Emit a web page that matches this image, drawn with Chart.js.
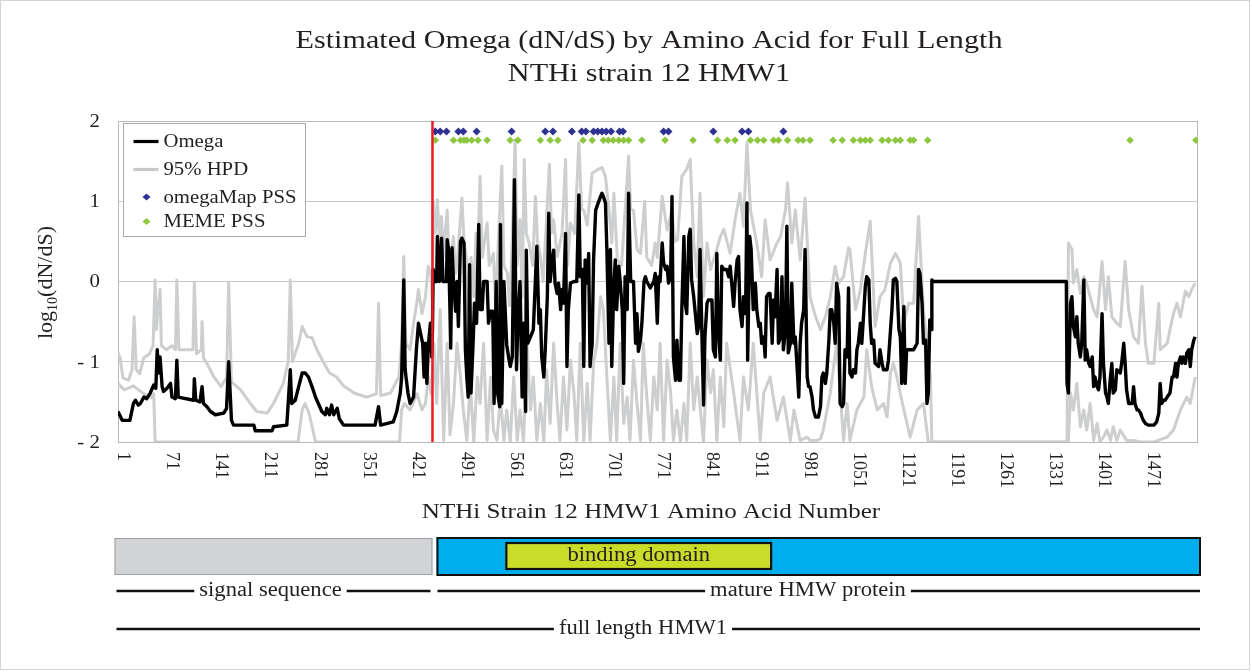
<!DOCTYPE html>
<html>
<head>
<meta charset="utf-8">
<script src="https://cdn.jsdelivr.net/npm/chart.js@4.4.1/dist/chart.umd.min.js"></script>
<style>
  html, body { margin: 0; padding: 0; background: #ffffff; }
  #wrap { width: 1252px; height: 672px; position: relative; }
  canvas { display: block; }
</style>
</head>
<body>
<div id="wrap"><canvas id="omegaChart" width="1252" height="672"></canvas></div>
<script>
// ---- Per-site log10(dN/dS) estimates: [amino-acid position, value] ----
const omegaSignal = [[-7,-1.62],[-1,-1.73],[10,-1.73],[15,-1.52],[18,-1.48],[22,-1.54],[25,-1.52],[30,-1.44],[34,-1.46],[39,-1.39],[44,-1.29],[47,-1.33],[49,-0.85],[51,-1.14],[53,-0.94],[56,-1.31],[58,-1.37],[63,-1.33],[68,-1.27],[70,-1.44],[75,-1.46],[77,-0.98],[79,-1.44],[101,-1.48],[102,-1.21],[104,-1.48],[110,-1.50],[113,-1.31],[115,-1.52],[120,-1.56],[125,-1.62],[132,-1.66],[144,-1.64],[148,-1.58],[151,-1.0],[155,-1.73],[158,-1.79],[187,-1.79],[189,-1.86],[213,-1.86],[215,-1.81],[234,-1.79],[236,-1.52],[239,-1.10],[241,-1.52],[246,-1.48],[251,-1.31],[256,-1.14],[260,-1.14],[265,-1.19],[270,-1.31],[275,-1.44],[279,-1.52],[284,-1.62],[289,-1.66],[291,-1.58],[295,-1.66],[298,-1.54],[301,-1.66],[306,-1.58],[309,-1.71],[315,-1.79],[360,-1.79],[365,-1.56],[368,-1.79],[386,-1.75],[391,-1.62],[396,-1.39],[398,-1.19],[401,0.02],[403,-1.10],[407,-1.39],[410,-1.52],[415,-1.44],[419,-0.85],[422,-0.52],[426,-0.69],[428,-0.77],[430,-1.19],[432,-0.77],[434,-1.27],[436,-0.81],[439,-0.52],[441,-0.94]];
const omegaMature = [[442,-0.6],[443,0.15],[446,0],[448,0],[449,0.56],[452,0],[455,0.54],[457,0],[462,0],[463,0.52],[465,0.4],[467,-0.37],[468,-0.83],[470,0.42],[472,0],[475,-0.37],[477,0],[479,-0.56],[482,0.5],[484,0.54],[487,0.48],[489,-0.85],[491,-1.19],[493,-1.44],[495,0.21],[497,-1.39],[500,-0.77],[502,-0.27],[505,-0.52],[508,0.71],[510,-0.35],[513,-0.35],[515,0],[520,0],[522,-0.52],[525,-0.37],[528,-0.37],[530,-1.52],[533,0],[535,-1.39],[538,-1.56],[539,0.71],[541,-1.52],[544,0],[548,-0.79],[551,-0.96],[553,-1.06],[556,-0.94],[559,1.27],[562,-1.1],[564,-0.52],[567,0],[570,-1.44],[572,-0.52],[575,-1.62],[576,0.39],[578,-0.77],[582,-0.69],[586,-0.6],[591,0.44],[594,-0.52],[596,-0.35],[598,-0.94],[601,-1.19],[603,-0.85],[606,-0.19],[608,0.85],[610,0],[613,0.27],[615,0.39],[617,-0.02],[620,-0.15],[622,-0.02],[625,-0.35],[627,-0.1],[629,-0.27],[632,0.6],[634,-1.06],[636,-0.35],[639,-0.02],[644,0],[648,0],[651,1.08],[653,0.06],[656,0.15],[658,-1.06],[660,0.27],[663,-0.02],[665,0.35],[667,-1.06],[670,-0.77],[672,0.27],[675,0.89],[677,0.94],[682,1.06],[684,1.1],[686,1.06],[689,0.98],[691,0.4],[694,-0.77],[696,0.4],[698,-1.06],[701,-0.02],[703,0.27],[705,-0.35],[708,0.19],[710,0],[713,-0.35],[715,-1.27],[717,0.06],[720,-0.35],[722,1.1],[725,0],[729,0],[732,-0.77],[734,-0.4],[736,-0.87],[739,-0.73],[741,-0.52],[744,0],[746,0.06],[748,0],[753,-0.08],[758,0],[760,0.1],[763,-0.52],[765,0.06],[767,0],[770,0.48],[772,0.23],[775,0.15],[777,0.19],[779,-0.02],[782,0.06],[784,1.06],[786,-0.94],[789,-1.23],[791,-0.73],[794,-1.23],[796,-1.23],[798,-0.35],[801,0.56],[803,-0.27],[805,-0.4],[808,0.56],[810,0.65]];
const omegaCentral = [[812,0.02],[815,-0.19],[820,-0.65],[822,-0.56],[824,0.40],[827,-0.77],[829,-1.54],[831,-0.69],[834,-0.27],[836,-0.23],[841,-0.23],[843,-0.85],[846,-0.94],[848,0.35],[850,-0.56],[853,-0.98],[855,0.19],[858,0.15],[862,0.15],[865,0.06],[867,0.19],[870,-0.10],[872,-0.31],[874,-0.02],[877,0.27],[879,0.31],[881,-0.35],[884,-0.56],[886,-0.19],[889,-0.40],[891,0.98],[892,-0.98],[895,0.56],[897,0.40],[900,-0.35],[903,-0.02],[905,-0.35],[908,-0.56],[910,-0.52],[912,-0.77],[915,-0.69],[917,-0.94],[919,-0.19],[922,-0.15],[924,-0.15],[927,-0.77],[929,-0.23],[931,-0.44],[934,0.15],[936,-0.77],[939,-0.69],[941,0.06],[943,-0.85],[946,-0.60],[948,0.69],[950,-0.89],[953,-0.77],[955,-0.02],[958,-0.77],[960,-0.69],[962,-0.98],[965,-1.44],[967,-0.77],[969,-0.52],[972,-0.35],[974,0.40],[977,-1.19],[979,-1.31],[981,-1.31],[984,-1.44],[986,-1.60],[989,-1.69],[993,-1.69],[996,-1.56],[998,-1.19],[1000,-1.14],[1003,-1.27],[1005,-1.14],[1008,-0.73],[1010,-0.35],[1012,-0.35],[1015,-0.52],[1017,-0.77],[1019,-0.02],[1022,-0.19],[1024,-1.52],[1027,-1.56],[1029,-1.52],[1031,-0.85],[1034,-0.94],[1036,-0.08],[1038,-1.14],[1041,-1.19],[1043,-1.10],[1046,-1.14],[1048,-0.85],[1050,-0.77],[1053,-0.52],[1055,-0.77],[1058,-0.35],[1060,-0.06],[1062,0.06],[1065,0.02],[1067,-0.52],[1069,-0.77],[1072,-0.73],[1074,-1.02],[1079,-1.06],[1081,-0.85],[1084,-1.02],[1086,-1.10],[1091,-1.10],[1093,-0.98],[1096,-0.60],[1098,-0.35],[1100,0.02],[1103,0.04],[1105,0.0],[1108,-0.60],[1110,-0.69],[1112,-1.27],[1115,-0.31],[1117,-1.27],[1119,-0.85],[1124,-0.85],[1129,-0.85],[1134,-0.77],[1136,0.15],[1138,0.10],[1141,-0.27],[1143,-0.77],[1146,-0.73],[1148,-1.52],[1150,-1.39],[1152,-0.48],[1154,-0.60],[1155,0.02],[1157,0],[1347,0]];
const omegaCTerm = [[1348,-1.27],[1350,-1.39],[1353,-0.27],[1355,-0.19],[1357,-0.56],[1360,-0.69],[1362,-0.44],[1364,-0.77],[1367,-0.94],[1369,-0.77],[1372,0.02],[1374,-0.98],[1376,-0.85],[1379,-1.02],[1381,-1.06],[1384,-0.94],[1386,-1.31],[1388,-1.19],[1391,-1.31],[1393,-1.35],[1395,-1.19],[1398,-0.40],[1400,-1.02],[1403,-1.39],[1405,-1.44],[1407,-1.52],[1410,-1.19],[1412,-1.02],[1414,-1.39],[1417,-1.35],[1419,-1.10],[1424,-1.14],[1426,-1.02],[1429,-0.77],[1431,-1.02],[1433,-1.35],[1436,-1.52],[1441,-1.52],[1443,-1.31],[1445,-1.52],[1448,-1.60],[1450,-1.60],[1453,-1.64],[1455,-1.69],[1457,-1.73],[1460,-1.77],[1464,-1.79],[1472,-1.79],[1476,-1.75],[1479,-1.64],[1481,-1.27],[1483,-1.52],[1486,-1.48],[1488,-1.48],[1491,-1.44],[1495,-1.39],[1498,-1.19],[1500,-1.19],[1503,-1.02],[1505,-1.19],[1507,-1.02],[1510,-0.94],[1512,-1.02],[1514,-0.94],[1517,-1.02],[1519,-0.89],[1522,-0.85],[1524,-1.06],[1526,-0.85],[1529,-0.73],[1531,-0.69]];

// ---- 95% HPD interval bounds ----
const hpdUpperSignal = [[-7,-0.89],[-4,-0.95],[0,-1.2],[8,-1.23],[13,-1.1],[16,-0.44],[19,-1.1],[24,-1.15],[30,-0.95],[38,-0.9],[43,-0.8],[46,0.02],[48,-0.6],[50,-0.35],[53,-0.1],[55,-0.8],[62,-0.85],[70,-0.8],[75,-0.85],[77,0.02],[80,-0.85],[100,-0.85],[102,-0.02],[105,-0.9],[112,-0.85],[113,-0.5],[115,-0.95],[120,-1.02],[130,-1.19],[140,-1.31],[148,-1.2],[151,-0.02],[155,-1.25],[168,-1.35],[182,-1.52],[191,-1.62],[206,-1.64],[215,-1.52],[229,-1.27],[236,-1.0],[239,0.02],[242,-1.0],[251,-0.77],[256,-0.56],[263,-0.69],[270,-0.7],[277,-0.85],[286,-1.0],[295,-1.14],[305,-1.19],[315,-1.3],[330,-1.39],[348,-1.44],[362,-1.4],[365,-0.27],[368,-1.42],[382,-1.39],[394,-1.19],[398,-0.77],[401,0.31],[404,-0.77],[410,-0.85],[415,-0.52],[419,-0.3],[422,-0.1],[427,-0.4],[432,-0.19],[436,0.19],[440,0.06]];
const hpdUpperMature = [[442,-0.3],[443,1.0],[446,0.6],[449,1.02],[452,0.5],[455,0.81],[457,0.3],[463,0.89],[466,0.2],[470,0.4],[472,0.56],[475,0.1],[478,0.3],[484,1.04],[487,0.5],[491,0.27],[494,-0.4],[497,0.3],[501,-0.19],[504,0.6],[506,0.2],[510,1.31],[513,0.3],[520,0.73],[523,0.2],[529,0.35],[532,-0.3],[535,0.3],[541,1.44],[544,0.2],[549,0.1],[552,-0.3],[555,0.3],[560,1.77],[563,0.2],[567,0.77],[570,-0.2],[573,1.52],[576,0.6],[580,0.48],[585,0.2],[589,1.06],[592,0.5],[596,0.31],[600,0.0],[609,1.46],[612,0.6],[615,0.77],[620,0.31],[627,0.6],[632,1.52],[635,0.2],[639,0.73],[645,0.6],[651,1.73],[655,0.9],[658,0.89],[663,0.7],[670,1.35],[677,1.39],[684,1.42],[689,1.31],[694,0.89],[698,0.48],[701,1.1],[706,0.27],[712,0.2],[722,1.56],[725,0.9],[729,0.89],[734,0.4],[739,0.35],[745,1.0],[748,0.3],[755,0.2],[760,0.48],[763,0.3],[770,1.06],[777,0.64],[784,0.89],[788,0.5],[792,0.52],[798,1.31],[805,1.4],[810,1.52]];
const hpdUpperCentral = [[815,0.48],[820,0.06],[824,1.10],[829,-0.19],[834,0.48],[839,0.15],[848,0.40],[853,0.56],[858,0.65],[867,0.35],[874,0.77],[881,1.10],[886,0.69],[891,1.73],[896,0.89],[905,0.48],[912,0.06],[917,0.77],[924,0.27],[934,0.48],[939,0.56],[946,0.89],[949,1.23],[955,0.48],[960,0.89],[967,0.27],[974,1.04],[981,-0.19],[989,-0.44],[996,-0.60],[1003,-0.44],[1010,-0.19],[1017,0.19],[1022,-0.02],[1029,0.06],[1036,0.42],[1038,0.40],[1046,-0.35],[1053,-0.10],[1060,0.35],[1067,0.75],[1074,-0.56],[1081,-0.19],[1088,-0.10],[1096,0.23],[1103,0.35],[1110,0.23],[1115,-0.52],[1122,-0.27],[1129,-0.27],[1136,0.81],[1143,-0.35],[1148,-0.77],[1153,-1.19],[1155,-2],[1348,-2]];
const hpdUpperCTerm = [[1350,0.48],[1355,0.40],[1357,-0.02],[1362,0.15],[1367,-0.15],[1372,0.06],[1376,-0.02],[1381,-0.19],[1386,-0.35],[1391,-0.44],[1398,0.25],[1403,-0.35],[1407,0.06],[1412,-0.44],[1419,-0.52],[1424,-0.56],[1431,0.25],[1436,-0.35],[1443,-0.69],[1450,-0.77],[1455,-0.06],[1460,-0.77],[1464,-1.02],[1472,-1.02],[1479,-0.27],[1481,-0.85],[1491,-0.77],[1495,-0.60],[1500,-0.40],[1505,-0.27],[1510,-0.44],[1517,-0.12],[1522,-0.19],[1526,-0.10],[1531,-0.02]];
const hpdLowerSignal = [[-7,-1.27],[2,-1.35],[15,-1.3],[30,-1.4],[40,-1.45],[44,-1.4],[46,-2],[250,-2],[256,-1.6],[260,-1.52],[266,-1.65],[275,-2],[395,-2],[398,-1.6],[402,-1.52],[410,-1.6],[420,-1.4],[427,-1.6],[432,-1.52],[436,-1.19],[440,-1.4]];
const hpdLowerMature = [[444,-0.77],[448,-1.52],[453,-0.35],[458,-1.98],[463,-0.77],[467,-1.91],[472,-1.52],[477,-0.77],[482,-1.19],[486,-1.6],[491,-1.98],[496,-1.27],[501,-2.0],[506,-1.19],[510,-1.52],[515,-0.77],[520,-1.98],[525,-1.19],[529,-1.85],[534,-1.98],[539,-1.44],[544,-1.98],[548,-1.6],[553,-2.0],[558,-1.19],[563,-1.98],[567,-1.6],[572,-2.0],[577,-0.77],[582,-1.6],[586,-1.19],[591,-1.98],[596,-1.52],[601,-2.0],[605,-1.1],[610,-1.77],[615,-0.77],[620,-1.52],[624,-1.98],[629,-1.19],[634,-1.85],[639,-0.98],[644,-1.39],[648,-1.98],[653,-0.77],[658,-2.0],[663,-1.27],[667,-1.98],[672,-1.02],[677,-0.77],[682,-0.19],[686,-0.35],[691,-1.19],[696,-1.98],[701,-1.19],[705,-1.98],[710,-0.77],[715,-1.77],[720,-1.44],[724,-1.98],[729,-0.98],[734,-1.52],[739,-1.98],[743,-0.77],[748,-1.44],[753,-1.98],[758,-1.19],[763,-1.6],[767,-0.77],[772,-1.98],[777,-0.98],[782,-1.39],[786,-1.98],[791,-1.6],[796,-2.0],[801,-1.52],[805,-1.98],[810,-0.77]];
const hpdLowerCentral = [[815,-1.6],[820,-1.19],[829,-2.0],[834,-0.98],[839,-1.39],[843,-1.1],[848,-1.98],[853,-1.19],[858,-1.81],[862,-0.77],[872,-1.39],[881,-1.98],[886,-1.19],[893,-1.6],[900,-0.77],[910,-1.98],[915,-1.39],[924,-1.19],[934,-1.73],[943,-1.44],[953,-1.98],[958,-1.6],[967,-1.98],[977,-1.94],[981,-1.98],[991,-1.98],[996,-1.96],[1000,-1.85],[1010,-1.39],[1019,-0.77],[1029,-1.98],[1034,-1.52],[1038,-1.98],[1048,-1.6],[1058,-1.44],[1062,-0.85],[1069,-1.31],[1077,-1.6],[1086,-1.52],[1091,-1.69],[1096,-1.14],[1100,-1.02],[1105,-1.19],[1115,-1.6],[1124,-1.94],[1134,-1.6],[1143,-1.52],[1150,-2.0],[1348,-2.0]];
const hpdLowerCTerm = [[1350,-2.0],[1353,-1.39],[1357,-1.60],[1362,-1.27],[1367,-1.81],[1372,-1.60],[1376,-1.85],[1381,-1.52],[1386,-1.98],[1391,-1.77],[1395,-2.0],[1400,-1.94],[1405,-1.85],[1410,-1.98],[1414,-1.81],[1419,-1.98],[1424,-1.85],[1433,-1.98],[1443,-1.98],[1453,-2.0],[1472,-2.0],[1491,-1.94],[1500,-1.85],[1510,-1.60],[1519,-1.44],[1524,-1.52],[1531,-1.19]];

// ---- Positively selected sites (plotted as a marker row near the top) ----
const omegaMapSites = [446,453,462,479,486,505,555,603,614,641,655,661,672,678,684,690,697,709,714,772,779,843,884,893,943];
const memeSites = [446,472,482,487,491,498,507,520,553,564,596,610,621,657,670,686,693,700,708,715,722,741,774,814,849,863,874,896,906,915,929,936,949,964,971,981,1014,1027,1043,1053,1060,1067,1084,1093,1103,1110,1124,1129,1149,1438,1532];
const omegaMapRow = 1.87;
const memeRow = 1.76;

// ---- Axes ----
const xTickValues = [1,71,141,211,281,351,421,491,561,631,701,771,841,911,981,1051,1121,1191,1261,1331,1401,1471];
const yTickValues = [2,1,0,-1,-2];
const yTickLabels = ['2','1','0','- 1','- 2'];
const matureStart = 442;
const bindingDomain = [546, 927];

const SERIF = '"Liberation Serif", "Times New Roman", Times, serif';
const toXY = arr => arr.map(p => ({ x: p[0], y: p[1] }));

// text drawn slightly widened horizontally, the way the figure's type is set
function wideText(ctx, s, x, y, size, align, sx) {
  ctx.save();
  ctx.font = size + 'px ' + SERIF;
  ctx.textAlign = align;
  ctx.textBaseline = 'middle';
  ctx.fillStyle = '#231f20';
  ctx.translate(x, y);
  ctx.scale(sx, 1);
  ctx.fillText(s, 0, 0);
  ctx.restore();
}
function wideWidth(ctx, s, size, sx) {
  ctx.save();
  ctx.font = size + 'px ' + SERIF;
  const w = ctx.measureText(s).width * sx;
  ctx.restore();
  return w;
}

const decorations = {
  id: 'decorations',
  beforeDraw(chart) {
    const ctx = chart.ctx;
    ctx.save();
    ctx.fillStyle = '#ffffff';
    ctx.fillRect(0, 0, chart.width, chart.height);
    ctx.strokeStyle = '#d4d4d4';
    ctx.lineWidth = 1;
    ctx.strokeRect(0.5, 0.5, chart.width - 3, chart.height - 3);
    ctx.restore();
  },
  beforeDatasetsDraw(chart) {
    const { ctx, chartArea: a } = chart;
    ctx.save();
    ctx.strokeStyle = '#b8b8b8';
    ctx.lineWidth = 1;
    ctx.strokeRect(a.left + 0.5, a.top + 0.5, a.right - a.left - 1, a.bottom - a.top);
    ctx.restore();
  },
  afterDatasetsDraw(chart) {
    const { ctx, chartArea: a, scales: { x } } = chart;
    // boundary between signal sequence and mature protein
    const rx = x.getPixelForValue(matureStart);
    ctx.save();
    ctx.strokeStyle = '#ed1c24';
    ctx.lineWidth = 2.5;
    ctx.beginPath();
    ctx.moveTo(rx, a.top);
    ctx.lineTo(rx, a.bottom);
    ctx.stroke();

    // legend box inside the plot
    const lx = a.left + 5.5, ly = a.top + 2.5, lw = 182, lh = 113;
    ctx.fillStyle = '#ffffff';
    ctx.fillRect(lx, ly, lw, lh);
    ctx.strokeStyle = '#a7a9ac';
    ctx.lineWidth = 1;
    ctx.strokeRect(lx, ly, lw, lh);
    const rows = [ly + 18, ly + 46, ly + 73.5, ly + 98];
    const sx0 = lx + 10, sx1 = lx + 35, tx = lx + 40;
    ctx.lineWidth = 3.2;
    ctx.strokeStyle = '#000000';
    ctx.beginPath(); ctx.moveTo(sx0, rows[0]); ctx.lineTo(sx1, rows[0]); ctx.stroke();
    ctx.strokeStyle = '#c7c8ca';
    ctx.beginPath(); ctx.moveTo(sx0, rows[1]); ctx.lineTo(sx1, rows[1]); ctx.stroke();
    const diamond = (cx, cy, color) => {
      ctx.fillStyle = color;
      ctx.beginPath();
      ctx.moveTo(cx - 4, cy); ctx.lineTo(cx, cy - 3.5); ctx.lineTo(cx + 4, cy); ctx.lineTo(cx, cy + 3.5);
      ctx.closePath(); ctx.fill();
    };
    diamond(lx + 23, rows[2], '#2e3192');
    diamond(lx + 23, rows[3], '#8dc63f');
    ctx.restore();
    const labels = ['Omega', '95% HPD', 'omegaMap PSS', 'MEME PSS'];
    labels.forEach((t, i) => wideText(ctx, t, tx, rows[i] + 1, 18.5, 'left', 1.12));
  },
  afterDraw(chart) {
    const { ctx, chartArea: a, scales: { x, y } } = chart;
    const cx = 649;

    // title
    wideText(ctx, 'Estimated Omega (dN/dS) by Amino Acid for Full Length', cx, 41, 26, 'center', 1.16);
    wideText(ctx, 'NTHi strain 12 HMW1', cx, 74, 26, 'center', 1.16);

    // y tick labels
    yTickValues.forEach((v, i) => wideText(ctx, yTickLabels[i], a.left - 18, y.getPixelForValue(v) + 1, 19, 'right', 1.1));

    // y axis title with subscript
    ctx.save();
    ctx.fillStyle = '#231f20';
    ctx.translate(52, (a.top + a.bottom) / 2 + 1);
    ctx.rotate(-Math.PI / 2);
    ctx.textBaseline = 'alphabetic';
    const big = '22px ' + SERIF, small = '14px ' + SERIF;
    ctx.font = big; const w1 = ctx.measureText('log').width; const w3 = ctx.measureText('(dN/dS)').width;
    ctx.font = small; const w2 = ctx.measureText('10').width;
    let px = -(w1 + w2 + w3) / 2;
    ctx.textAlign = 'left';
    ctx.font = big; ctx.fillText('log', px, 0); px += w1;
    ctx.font = small; ctx.fillText('10', px, 5); px += w2;
    ctx.font = big; ctx.fillText('(dN/dS)', px, 0);
    ctx.restore();

    // x tick labels, set vertically
    ctx.save();
    ctx.fillStyle = '#231f20';
    ctx.font = '18px ' + SERIF;
    ctx.textAlign = 'left';
    ctx.textBaseline = 'middle';
    xTickValues.forEach(v => {
      ctx.save();
      ctx.translate(x.getPixelForValue(v), a.bottom + 10);
      ctx.rotate(Math.PI / 2);
      ctx.scale(1, 1.1);
      ctx.fillText(String(v), 0, 0);
      ctx.restore();
    });
    ctx.restore();

    // x axis title
    wideText(ctx, 'NTHi Strain 12 HMW1 Amino Acid Number', 651, 512, 22, 'center', 1.14);

    // protein domain map
    const mx = x.getPixelForValue(matureStart);
    const gL = a.left - 3.5, gR = mx, bL = mx + 4, bR = a.right + 3;
    ctx.save();
    ctx.fillStyle = '#d1d3d4';
    ctx.fillRect(gL, 538, gR - gL, 37);
    ctx.strokeStyle = '#9d9fa2';
    ctx.lineWidth = 1;
    ctx.strokeRect(gL + 0.5, 538.5, gR - gL - 1, 36);
    ctx.fillStyle = '#00aeef';
    ctx.fillRect(bL, 537, bR - bL, 39);
    ctx.strokeStyle = '#111111';
    ctx.lineWidth = 2;
    ctx.strokeRect(bL + 1, 538, bR - bL - 2, 37);
    const dL = x.getPixelForValue(bindingDomain[0]), dR = x.getPixelForValue(bindingDomain[1]);
    ctx.fillStyle = '#cbdb2a';
    ctx.fillRect(dL, 542, dR - dL, 28);
    ctx.lineWidth = 2.2;
    ctx.strokeRect(dL + 1, 543, dR - dL - 2, 26);
    ctx.restore();
    wideText(ctx, 'binding domain', (dL + dR) / 2, 556, 20, 'center', 1.13);

    // spans with centred captions
    const span = (x0, x1, yy, label, center) => {
      const w = wideWidth(ctx, label, 20, 1.13);
      ctx.save();
      ctx.strokeStyle = '#111111';
      ctx.lineWidth = 2.5;
      ctx.beginPath();
      ctx.moveTo(x0, yy); ctx.lineTo(center - w / 2 - 5, yy);
      ctx.moveTo(center + w / 2 + 5, yy); ctx.lineTo(x1, yy);
      ctx.stroke();
      ctx.restore();
      wideText(ctx, label, center, yy, 20, 'center', 1.13);
    };
    span(gL + 2, gR - 2, 591, 'signal sequence', (gL + gR) / 2 - 3);
    span(bL + 1, bR - 1, 591, 'mature HMW protein', 808);
    span(gL + 2, bR - 1, 629, 'full length HMW1', 643);
  }
};

const lineBase = { pointRadius: 0, pointHoverRadius: 0, tension: 0, fill: false, borderJoinStyle: 'round' };

new Chart(document.getElementById('omegaChart').getContext('2d'), {
  type: 'line',
  data: {
    datasets: [
      { label: 'omegaMap PSS', data: omegaMapSites.map(s => ({ x: s, y: omegaMapRow })), showLine: false,
        pointStyle: 'rectRot', pointRadius: 4, backgroundColor: '#2e3192', borderColor: '#2e3192', borderWidth: 0, order: 0 },
      { label: 'MEME PSS', data: memeSites.map(s => ({ x: s, y: memeRow })), showLine: false,
        pointStyle: 'rectRot', pointRadius: 3.8, backgroundColor: '#8dc63f', borderColor: '#8dc63f', borderWidth: 0, order: 0 },
      Object.assign({ label: 'Omega', data: toXY([].concat(omegaSignal, omegaMature, omegaCentral, omegaCTerm)),
        borderColor: '#000000', borderWidth: 3.4, order: 1 }, lineBase),
      Object.assign({ label: '95% HPD', data: toXY([].concat(hpdUpperSignal, hpdUpperMature, hpdUpperCentral, hpdUpperCTerm)),
        borderColor: '#cdcecf', borderWidth: 3, order: 2 }, lineBase),
      Object.assign({ label: '95% HPD lower', data: toXY([].concat(hpdLowerSignal, hpdLowerMature, hpdLowerCentral, hpdLowerCTerm)),
        borderColor: '#cdcecf', borderWidth: 3, order: 2 }, lineBase)
    ]
  },
  options: {
    responsive: false,
    animation: false,
    devicePixelRatio: 1,
    events: [],
    layout: { padding: { left: 118, top: 121, right: 54, bottom: 230 } },
    plugins: { legend: { display: false }, title: { display: false }, tooltip: { enabled: false } },
    scales: {
      x: {
        type: 'linear', min: -7, max: 1535,
        grid: { display: false, drawTicks: false },
        border: { display: false },
        ticks: { display: false },
        afterFit(s) { s.height = 0; }
      },
      y: {
        type: 'linear', min: -2, max: 2,
        grid: { color: '#c8c8c8', lineWidth: 1, drawTicks: false },
        border: { display: false },
        ticks: { display: false, stepSize: 1 },
        afterFit(s) { s.width = 0; }
      }
    }
  },
  plugins: [decorations]
});
</script>
</body>
</html>
